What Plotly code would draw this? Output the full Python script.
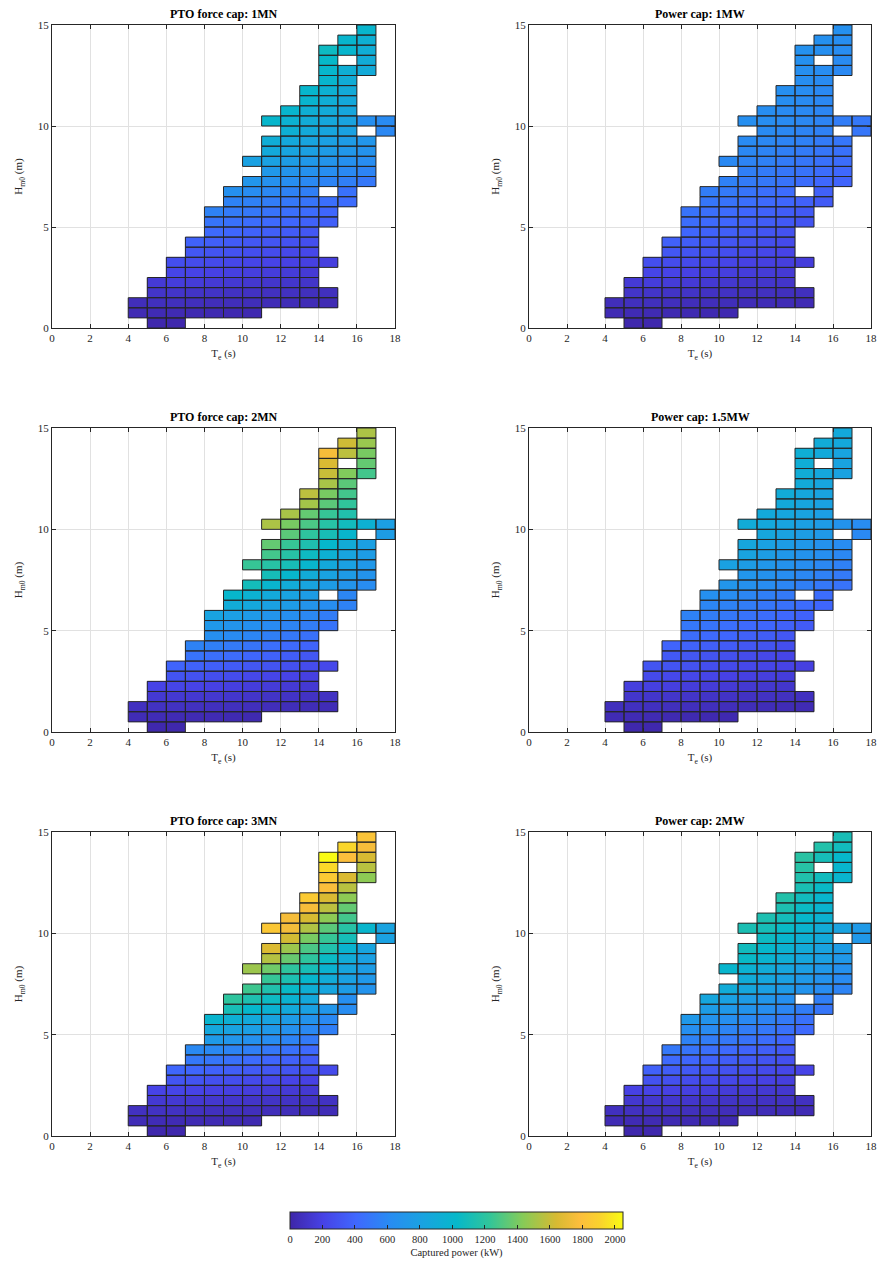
import plotly.graph_objects as go

_ = None

# Bin centres
te_centers = [4.5, 5.5, 6.5, 7.5, 8.5, 9.5, 10.5, 11.5, 12.5, 13.5, 14.5, 15.5, 16.5, 17.5]
hm0_centers = [0.25, 0.75, 1.25, 1.75, 2.25, 2.75, 3.25, 3.75, 4.25, 4.75,
               5.25, 5.75, 6.25, 6.75, 7.25, 7.75, 8.25, 8.75, 9.25, 9.75,
               10.25, 10.75, 11.25, 11.75, 12.25, 12.75, 13.25, 13.75, 14.25, 14.75]
te_width = 1.0
hm0_height = 0.5

titles = ["PTO force cap: 1MN", "Power cap: 1MW",
          "PTO force cap: 2MN", "Power cap: 1.5MW",
          "PTO force cap: 3MN", "Power cap: 2MW"]

# Captured power (kW); rows = Hm0 bins (bottom -> top), cols = Te bins 4..17
force_1MN = [
    [_, 15, 15, _, _, _, _, _, _, _, _, _, _, _],
    [40, 40, 35, 30, 30, 25, 25, _, _, _, _, _, _, _],
    [60, 70, 70, 65, 60, 60, 55, 50, 50, 45, 40, _, _, _],
    [_, 110, 110, 100, 100, 90, 90, 80, 80, 70, 70, _, _, _],
    [_, 150, 170, 160, 150, 140, 130, 120, 120, 110, _, _, _, _],
    [_, _, 220, 210, 200, 190, 180, 170, 160, 150, _, _, _, _],
    [_, _, 270, 260, 250, 230, 220, 210, 200, 190, 180, _, _, _],
    [_, _, _, 320, 300, 290, 270, 260, 240, 230, _, _, _, _],
    [_, _, _, 380, 360, 340, 320, 310, 290, 270, _, _, _, _],
    [_, _, _, _, 420, 400, 380, 360, 340, 320, _, _, _, _],
    [_, _, _, _, 480, 460, 440, 420, 400, 380, 360, _, _, _],
    [_, _, _, _, 560, 520, 500, 470, 450, 430, 400, _, _, _],
    [_, _, _, _, _, 560, 550, 530, 500, 480, 450, 430, _, _],
    [_, _, _, _, _, 650, 620, 590, 560, 540, _, 460, _, _],
    [_, _, _, _, _, _, 700, 660, 630, 600, 570, 540, 500, _],
    [_, _, _, _, _, _, _, 720, 690, 660, 630, 600, 570, _],
    [_, _, _, _, _, _, 800, 800, 760, 720, 690, 650, 620, _],
    [_, _, _, _, _, _, _, 880, 830, 790, 750, 710, 670, _],
    [_, _, _, _, _, _, _, 920, 870, 830, 790, 750, 700, _],
    [_, _, _, _, _, _, _, _, 940, 880, 840, 800, _, 590],
    [_, _, _, _, _, _, _, 1010, 960, 900, 860, 820, 640, 610],
    [_, _, _, _, _, _, _, _, 1000, 930, 890, 850, _, _],
    [_, _, _, _, _, _, _, _, _, 990, 920, 870, _, _],
    [_, _, _, _, _, _, _, _, _, 1010, 950, 890, _, _],
    [_, _, _, _, _, _, _, _, _, _, 1000, 910, _, _],
    [_, _, _, _, _, _, _, _, _, _, 1010, 930, 890, _],
    [_, _, _, _, _, _, _, _, _, _, 1030, _, 900, _],
    [_, _, _, _, _, _, _, _, _, _, 1060, 1000, 920, _],
    [_, _, _, _, _, _, _, _, _, _, _, 1000, 940, _],
    [_, _, _, _, _, _, _, _, _, _, _, _, 1000, _],
]

force_2MN = [
    [_, 15, 15, _, _, _, _, _, _, _, _, _, _, _],
    [45, 45, 40, 38, 35, 30, 28, _, _, _, _, _, _, _],
    [80, 85, 85, 80, 75, 70, 65, 60, 55, 50, 45, _, _, _],
    [_, 140, 140, 135, 130, 120, 110, 100, 95, 90, 85, _, _, _],
    [_, 210, 220, 210, 200, 185, 170, 160, 150, 140, _, _, _, _],
    [_, _, 300, 290, 270, 260, 240, 220, 210, 190, _, _, _, _],
    [_, _, 390, 380, 360, 340, 320, 300, 280, 260, 240, _, _, _],
    [_, _, _, 470, 450, 430, 400, 380, 350, 320, _, _, _, _],
    [_, _, _, 560, 540, 510, 480, 450, 420, 390, _, _, _, _],
    [_, _, _, _, 640, 610, 580, 540, 500, 460, _, _, _, _],
    [_, _, _, _, 720, 690, 650, 610, 570, 530, 480, _, _, _],
    [_, _, _, _, 820, 780, 740, 690, 640, 590, 530, _, _, _],
    [_, _, _, _, _, 900, 860, 800, 750, 690, 630, 560, _, _],
    [_, _, _, _, _, 1010, 960, 880, 820, 760, _, 580, _, _],
    [_, _, _, _, _, _, 1090, 990, 900, 830, 760, 690, 620, _],
    [_, _, _, _, _, _, _, 1100, 1010, 900, 820, 750, 680, _],
    [_, _, _, _, _, _, 1240, 1180, 1110, 1000, 880, 800, 720, _],
    [_, _, _, _, _, _, _, 1270, 1180, 1060, 950, 830, 760, _],
    [_, _, _, _, _, _, _, 1350, 1240, 1140, 1020, 900, 790, _],
    [_, _, _, _, _, _, _, _, 1330, 1210, 1110, 1000, _, 760],
    [_, _, _, _, _, _, _, 1530, 1400, 1290, 1180, 1080, 950, 780],
    [_, _, _, _, _, _, _, _, 1520, 1350, 1240, 1150, _, _],
    [_, _, _, _, _, _, _, _, _, 1510, 1330, 1220, _, _],
    [_, _, _, _, _, _, _, _, _, 1570, 1400, 1270, _, _],
    [_, _, _, _, _, _, _, _, _, _, 1520, 1330, _, _],
    [_, _, _, _, _, _, _, _, _, _, 1600, 1420, 1270, _],
    [_, _, _, _, _, _, _, _, _, _, 1650, _, 1350, _],
    [_, _, _, _, _, _, _, _, _, _, 1760, 1570, 1400, _],
    [_, _, _, _, _, _, _, _, _, _, _, 1620, 1480, _],
    [_, _, _, _, _, _, _, _, _, _, _, _, 1530, _],
]

force_3MN = [
    [_, 15, 15, _, _, _, _, _, _, _, _, _, _, _],
    [45, 45, 40, 38, 35, 30, 28, _, _, _, _, _, _, _],
    [80, 85, 85, 80, 75, 70, 65, 60, 55, 50, 45, _, _, _],
    [_, 140, 140, 135, 130, 120, 110, 100, 95, 90, 85, _, _, _],
    [_, 210, 220, 210, 200, 190, 175, 160, 150, 140, _, _, _, _],
    [_, _, 310, 300, 280, 270, 250, 230, 210, 200, _, _, _, _],
    [_, _, 400, 400, 380, 360, 340, 320, 300, 280, 250, _, _, _],
    [_, _, _, 500, 490, 460, 430, 400, 370, 340, _, _, _, _],
    [_, _, _, 600, 600, 570, 540, 500, 460, 420, _, _, _, _],
    [_, _, _, _, 740, 700, 660, 620, 570, 520, _, _, _, _],
    [_, _, _, _, 860, 820, 780, 720, 660, 600, 540, _, _, _],
    [_, _, _, _, 990, 940, 880, 820, 750, 680, 600, _, _, _],
    [_, _, _, _, _, 1110, 1020, 960, 880, 800, 700, 620, _, _],
    [_, _, _, _, _, 1210, 1140, 1060, 970, 870, _, 640, _, _],
    [_, _, _, _, _, _, 1260, 1150, 1040, 930, 840, 760, 680, _],
    [_, _, _, _, _, _, _, 1240, 1130, 1010, 900, 800, 720, _],
    [_, _, _, _, _, _, 1490, 1380, 1210, 1110, 970, 840, 760, _],
    [_, _, _, _, _, _, _, 1550, 1360, 1210, 1050, 900, 790, _],
    [_, _, _, _, _, _, _, 1660, 1490, 1290, 1150, 980, 830, _],
    [_, _, _, _, _, _, _, _, 1630, 1400, 1240, 1100, _, 800],
    [_, _, _, _, _, _, _, 1840, 1750, 1540, 1330, 1180, 1000, 820],
    [_, _, _, _, _, _, _, _, 1760, 1640, 1450, 1270, _, _],
    [_, _, _, _, _, _, _, _, _, 1760, 1570, 1350, _, _],
    [_, _, _, _, _, _, _, _, _, 1860, 1650, 1450, _, _],
    [_, _, _, _, _, _, _, _, _, _, 1780, 1560, _, _],
    [_, _, _, _, _, _, _, _, _, _, 1850, 1650, 1450, _],
    [_, _, _, _, _, _, _, _, _, _, 1930, _, 1560, _],
    [_, _, _, _, _, _, _, _, _, _, 2050, 1780, 1640, _],
    [_, _, _, _, _, _, _, _, _, _, _, 1920, 1760, _],
    [_, _, _, _, _, _, _, _, _, _, _, _, 1820, _],
]

power_1MW = [
    [_, 15, 15, _, _, _, _, _, _, _, _, _, _, _],
    [40, 40, 35, 30, 30, 25, 25, _, _, _, _, _, _, _],
    [60, 70, 70, 65, 60, 60, 55, 50, 50, 45, 40, _, _, _],
    [_, 110, 110, 100, 100, 90, 90, 80, 80, 70, 70, _, _, _],
    [_, 150, 170, 160, 150, 140, 130, 120, 120, 110, _, _, _, _],
    [_, _, 220, 210, 200, 190, 180, 170, 160, 150, _, _, _, _],
    [_, _, 270, 260, 250, 230, 220, 200, 190, 180, 170, _, _, _],
    [_, _, _, 320, 300, 290, 270, 250, 230, 210, _, _, _, _],
    [_, _, _, 370, 350, 330, 310, 290, 270, 250, _, _, _, _],
    [_, _, _, _, 400, 380, 360, 340, 310, 290, _, _, _, _],
    [_, _, _, _, 440, 420, 400, 370, 350, 330, 300, _, _, _],
    [_, _, _, _, 470, 450, 430, 400, 380, 350, 330, _, _, _],
    [_, _, _, _, _, 490, 470, 450, 420, 400, 370, 340, _, _],
    [_, _, _, _, _, 530, 510, 480, 450, 430, _, 370, _, _],
    [_, _, _, _, _, _, 550, 520, 500, 470, 440, 410, 390, _],
    [_, _, _, _, _, _, _, 540, 520, 490, 470, 440, 410, _],
    [_, _, _, _, _, _, 600, 570, 550, 520, 490, 460, 440, _],
    [_, _, _, _, _, _, _, 590, 570, 540, 520, 490, 460, _],
    [_, _, _, _, _, _, _, 610, 590, 570, 550, 520, 490, _],
    [_, _, _, _, _, _, _, _, 610, 590, 570, 550, _, 490],
    [_, _, _, _, _, _, _, 640, 630, 610, 590, 570, 530, 500],
    [_, _, _, _, _, _, _, _, 630, 610, 600, 580, _, _],
    [_, _, _, _, _, _, _, _, _, 630, 610, 590, _, _],
    [_, _, _, _, _, _, _, _, _, 640, 620, 600, _, _],
    [_, _, _, _, _, _, _, _, _, _, 630, 610, _, _],
    [_, _, _, _, _, _, _, _, _, _, 640, 620, 600, _],
    [_, _, _, _, _, _, _, _, _, _, 650, _, 610, _],
    [_, _, _, _, _, _, _, _, _, _, 660, 640, 620, _],
    [_, _, _, _, _, _, _, _, _, _, _, 650, 630, _],
    [_, _, _, _, _, _, _, _, _, _, _, _, 650, _],
]

power_1p5MW = [
    [_, 15, 15, _, _, _, _, _, _, _, _, _, _, _],
    [40, 40, 35, 30, 30, 25, 25, _, _, _, _, _, _, _],
    [70, 75, 75, 70, 65, 65, 60, 55, 50, 45, 40, _, _, _],
    [_, 120, 120, 115, 110, 100, 95, 90, 85, 80, 75, _, _, _],
    [_, 180, 190, 180, 170, 160, 150, 140, 130, 120, _, _, _, _],
    [_, _, 250, 240, 230, 220, 200, 190, 180, 170, _, _, _, _],
    [_, _, 310, 300, 290, 270, 250, 240, 220, 210, 190, _, _, _],
    [_, _, _, 330, 320, 300, 280, 260, 240, 220, _, _, _, _],
    [_, _, _, 390, 380, 360, 340, 320, 300, 270, _, _, _, _],
    [_, _, _, _, 440, 420, 400, 370, 350, 320, _, _, _, _],
    [_, _, _, _, 500, 480, 450, 420, 400, 370, 340, _, _, _],
    [_, _, _, _, 560, 530, 500, 470, 440, 410, 380, _, _, _],
    [_, _, _, _, _, 580, 560, 530, 490, 460, 430, 400, _, _],
    [_, _, _, _, _, 650, 620, 580, 540, 510, _, 440, _, _],
    [_, _, _, _, _, _, 700, 660, 620, 580, 540, 500, 470, _],
    [_, _, _, _, _, _, _, 700, 670, 630, 590, 550, 510, _],
    [_, _, _, _, _, _, 800, 760, 710, 670, 630, 590, 550, _],
    [_, _, _, _, _, _, _, 820, 770, 720, 680, 640, 590, _],
    [_, _, _, _, _, _, _, 850, 800, 760, 720, 670, 620, _],
    [_, _, _, _, _, _, _, _, 850, 810, 770, 730, _, 600],
    [_, _, _, _, _, _, _, 900, 870, 830, 790, 750, 680, 620],
    [_, _, _, _, _, _, _, _, 880, 850, 820, 780, _, _],
    [_, _, _, _, _, _, _, _, _, 880, 840, 800, _, _],
    [_, _, _, _, _, _, _, _, _, 900, 860, 820, _, _],
    [_, _, _, _, _, _, _, _, _, _, 890, 840, _, _],
    [_, _, _, _, _, _, _, _, _, _, 910, 860, 810, _],
    [_, _, _, _, _, _, _, _, _, _, 920, _, 820, _],
    [_, _, _, _, _, _, _, _, _, _, 930, 880, 830, _],
    [_, _, _, _, _, _, _, _, _, _, _, 900, 870, _],
    [_, _, _, _, _, _, _, _, _, _, _, _, 880, _],
]

power_2MW = [
    [_, 15, 15, _, _, _, _, _, _, _, _, _, _, _],
    [40, 40, 35, 32, 30, 28, 25, _, _, _, _, _, _, _],
    [75, 80, 80, 75, 70, 65, 60, 55, 50, 45, 40, _, _, _],
    [_, 130, 130, 125, 120, 110, 100, 95, 90, 85, 80, _, _, _],
    [_, 200, 210, 200, 190, 180, 160, 150, 140, 130, _, _, _, _],
    [_, _, 290, 280, 260, 250, 230, 210, 200, 180, _, _, _, _],
    [_, _, 370, 350, 330, 310, 290, 270, 250, 230, 210, _, _, _],
    [_, _, _, 420, 400, 380, 350, 330, 300, 280, _, _, _, _],
    [_, _, _, 500, 480, 450, 420, 390, 360, 330, _, _, _, _],
    [_, _, _, _, 560, 530, 500, 470, 440, 400, _, _, _, _],
    [_, _, _, _, 640, 610, 570, 530, 500, 460, 420, _, _, _],
    [_, _, _, _, 720, 680, 640, 600, 560, 510, 460, _, _, _],
    [_, _, _, _, _, 760, 720, 680, 630, 580, 530, 490, _, _],
    [_, _, _, _, _, 850, 800, 750, 700, 640, _, 540, _, _],
    [_, _, _, _, _, _, 900, 850, 790, 740, 680, 620, 570, _],
    [_, _, _, _, _, _, _, 900, 850, 790, 730, 670, 610, _],
    [_, _, _, _, _, _, 1000, 960, 900, 840, 780, 720, 660, _],
    [_, _, _, _, _, _, _, 1040, 980, 920, 850, 790, 720, _],
    [_, _, _, _, _, _, _, 1080, 1020, 960, 890, 820, 760, _],
    [_, _, _, _, _, _, _, _, 1060, 1000, 940, 880, _, 720],
    [_, _, _, _, _, _, _, 1120, 1100, 1040, 980, 900, 820, 740],
    [_, _, _, _, _, _, _, _, 1130, 1090, 1020, 960, _, _],
    [_, _, _, _, _, _, _, _, _, 1130, 1050, 980, _, _],
    [_, _, _, _, _, _, _, _, _, 1160, 1080, 1000, _, _],
    [_, _, _, _, _, _, _, _, _, _, 1120, 1040, _, _],
    [_, _, _, _, _, _, _, _, _, _, 1150, 1080, 990, _],
    [_, _, _, _, _, _, _, _, _, _, 1180, _, 1000, _],
    [_, _, _, _, _, _, _, _, _, _, 1190, 1100, 1020, _],
    [_, _, _, _, _, _, _, _, _, _, _, 1160, 1080, _],
    [_, _, _, _, _, _, _, _, _, _, _, _, 1110, _],
]

panels = [force_1MN, power_1MW, force_2MN, power_1p5MW, force_3MN, power_2MW]

x_ticks = [0, 2, 4, 6, 8, 10, 12, 14, 16, 18]
y_ticks = [0, 5, 10, 15]
cbar_ticks = [0, 200, 400, 600, 800, 1000, 1200, 1400, 1600, 1800, 2000]

parula = [
    [0.00, "rgb(62,38,168)"],
    [0.10, "rgb(71,66,230)"],
    [0.20, "rgb(63,104,254)"],
    [0.30, "rgb(40,140,242)"],
    [0.40, "rgb(25,163,224)"],
    [0.50, "rgb(6,184,202)"],
    [0.60, "rgb(50,197,153)"],
    [0.70, "rgb(135,203,87)"],
    [0.80, "rgb(215,186,50)"],
    [0.87, "rgb(252,190,60)"],
    [0.93, "rgb(250,210,45)"],
    [1.00, "rgb(249,251,20)"],
]

W, H = 880, 1266


def px_x(p):
    return p / W


def px_y(p):
    return 1 - p / H


col_px = [(52, 395), (529, 871)]
row_px = [(25, 328), (428, 732), (832, 1136)]

FONT = "Liberation Serif, Times New Roman, serif"
fig = go.Figure()
layout = dict(
    width=W, height=H, margin=dict(l=0, r=0, t=0, b=0),
    paper_bgcolor="white", plot_bgcolor="white",
    font=dict(family=FONT, size=11, color="#262626"),
    showlegend=False,
    coloraxis=dict(
        colorscale=parula, cmin=0, cmax=2050,
        colorbar=dict(
            orientation="h", x=(px_x(290) + px_x(623)) / 2, xanchor="center",
            y=px_y(1212), yanchor="top", len=333 / W, lenmode="fraction",
            thickness=17, thicknessmode="pixels", xpad=0, ypad=0,
            outlinewidth=1, outlinecolor="#262626",
            ticks="inside", ticklen=4, tickcolor="#262626",
            tickvals=cbar_ticks, tickfont=dict(family=FONT, size=10.5, color="#262626"),
            title=dict(text="Captured power (kW)", side="bottom",
                       font=dict(family=FONT, size=10.5, color="#262626")),
        ),
    ),
    annotations=[],
)

for k, (z, title) in enumerate(zip(panels, titles)):
    r, c = divmod(k, 2)
    ax = "" if k == 0 else str(k + 1)
    xd = [px_x(col_px[c][0]), px_x(col_px[c][1])]
    yd = [px_y(row_px[r][1]), px_y(row_px[r][0])]
    fig.add_trace(go.Heatmap(
        x=te_centers, y=hm0_centers, z=z, coloraxis="coloraxis",
        xaxis="x" + ax, yaxis="y" + ax, hoverongaps=False, zsmooth=False,
    ))
    # cell outlines derived from the bins of the data
    ox, oy = [], []
    for i, yc in enumerate(hm0_centers):
        for j, xc in enumerate(te_centers):
            if z[i][j] is None:
                continue
            x0, x1 = xc - te_width / 2, xc + te_width / 2
            y0, y1 = yc - hm0_height / 2, yc + hm0_height / 2
            ox += [x0, x1, x1, x0, x0, None]
            oy += [y0, y0, y1, y1, y0, None]
    fig.add_trace(go.Scatter(
        x=ox, y=oy, mode="lines", line=dict(color="rgb(38,38,38)", width=1),
        hoverinfo="skip", xaxis="x" + ax, yaxis="y" + ax,
    ))
    axis_common = dict(
        showline=True, linecolor="#262626", linewidth=1, mirror="ticks",
        ticks="inside", ticklen=4, tickcolor="#262626",
        showgrid=True, gridcolor="rgb(225,225,225)", gridwidth=1,
        zeroline=False, automargin=False,
        tickfont=dict(family=FONT, size=11, color="#262626"),
    )
    layout["xaxis" + ax] = dict(
        axis_common, domain=xd, range=[0, 18], tickvals=x_ticks,
        anchor="y" + ax,
        title=dict(text="T<sub>e</sub> (s)", standoff=6,
                   font=dict(family=FONT, size=11, color="#262626")),
    )
    layout["yaxis" + ax] = dict(
        axis_common, domain=yd, range=[0, 15], tickvals=y_ticks,
        anchor="x" + ax,
        title=dict(text="H<sub>m0</sub> (m)", standoff=12,
                   font=dict(family=FONT, size=11, color="#262626")),
    )
    layout["annotations"].append(dict(
        text="<b>" + title + "</b>", x=(xd[0] + xd[1]) / 2, y=yd[1],
        xref="paper", yref="paper", xanchor="center", yanchor="bottom",
        yshift=2, showarrow=False, font=dict(family=FONT, size=12, color="black"),
    ))

fig.update_layout(**layout)
fig.write_html(
    "out.html",
    config={"displayModeBar": False},
    post_script="document.body.style.margin='0';document.body.style.overflow='hidden';",
)
